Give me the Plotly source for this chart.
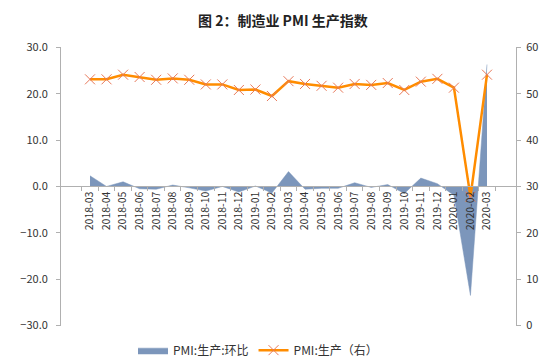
import plotly.graph_objects as go

months = ["2018-03","2018-04","2018-05","2018-06","2018-07","2018-08","2018-09","2018-10",
          "2018-11","2018-12","2019-01","2019-02","2019-03","2019-04","2019-05","2019-06",
          "2019-07","2019-08","2019-09","2019-10","2019-11","2019-12","2020-01","2020-02","2020-03"]
pmi_prod = [53.1, 53.1, 54.1, 53.6, 53.0, 53.3, 53.0, 52.0, 52.0, 50.8, 50.9, 49.5, 52.7,
            52.1, 51.7, 51.3, 52.1, 51.9, 52.3, 50.8, 52.6, 53.2, 51.3, 27.8, 54.1]
pmi_mom = [2.3, 0.0, 1.0, -0.5, -0.6, 0.3, -0.3, -1.0, 0.0, -1.2, 0.1, -1.4, 3.2,
           -0.6, -0.4, -0.4, 0.8, -0.2, 0.4, -1.5, 1.8, 0.6, -1.9, -23.5, 26.3]
title_text = "图 2：制造业 PMI 生产指数"

font_family = "Noto Sans CJK SC"
axis_col = "#B0B0B0"
text_col = "#333333"

W, H = 550, 357
x_dom = [53 / W, 508 / W]
y_dom = [1 - 323 / H, 1 - 40 / H]
y_mid = (y_dom[0] + y_dom[1]) / 2

fig = go.Figure()
fig.add_trace(go.Scatter(
    x=months, y=pmi_mom, name="PMI:生产:环比", mode="lines",
    fill="tozeroy", fillcolor="#7C96BB",
    line=dict(color="#7C96BB", width=0.5), yaxis="y"))
fig.add_trace(go.Scatter(
    x=months, y=pmi_prod, name="PMI:生产（右）", mode="lines+markers",
    line=dict(color="#FF8C00", width=2.5),
    marker=dict(symbol="x-thin", size=10, color="#E8795A",
                line=dict(width=1, color="#E8795A")),
    yaxis="y2"))

fig.add_annotation(text="<b>" + title_text + "</b>", xref="paper", yref="paper",
                   x=0.5, y=1 - 12 / H, xanchor="center", yanchor="middle",
                   showarrow=False, font=dict(size=14, color="#222222"))

fig.update_layout(
    width=W, height=H,
    margin=dict(l=0, r=0, t=0, b=0),
    paper_bgcolor="white", plot_bgcolor="white",
    font=dict(family=font_family, color=text_col, size=11),
    showlegend=True,
    legend=dict(orientation="h", x=125 / W, xanchor="left", y=1 - 348 / H, yanchor="middle",
                font=dict(size=12, color=text_col), bgcolor="rgba(0,0,0,0)"),
    xaxis=dict(type="category", domain=x_dom, anchor="free", position=y_mid,
               showline=True, linecolor=axis_col, linewidth=1,
               ticks="outside", tickson="boundaries", ticklen=4, tickcolor=axis_col,
               tickangle=-90, tickfont=dict(size=10.5, color=text_col),
               showgrid=False, zeroline=False, automargin=False),
    yaxis=dict(domain=y_dom, range=[-30, 30], dtick=10, tickformat=".1f",
               showline=True, linecolor=axis_col, linewidth=1,
               ticks="outside", ticklen=4, tickcolor=axis_col, automargin=False,
               ticklabelstandoff=6,
               showgrid=False, zeroline=False, tickfont=dict(size=11, color=text_col)),
    yaxis2=dict(domain=y_dom, range=[0, 60], dtick=10, overlaying="y", side="right",
                anchor="x", showline=True, linecolor=axis_col, linewidth=1,
                ticks="outside", ticklen=4, tickcolor=axis_col, automargin=False,
                ticklabelstandoff=3,
                showgrid=False, zeroline=False, tickfont=dict(size=11, color=text_col)),
)

fig.write_html("out.html")
